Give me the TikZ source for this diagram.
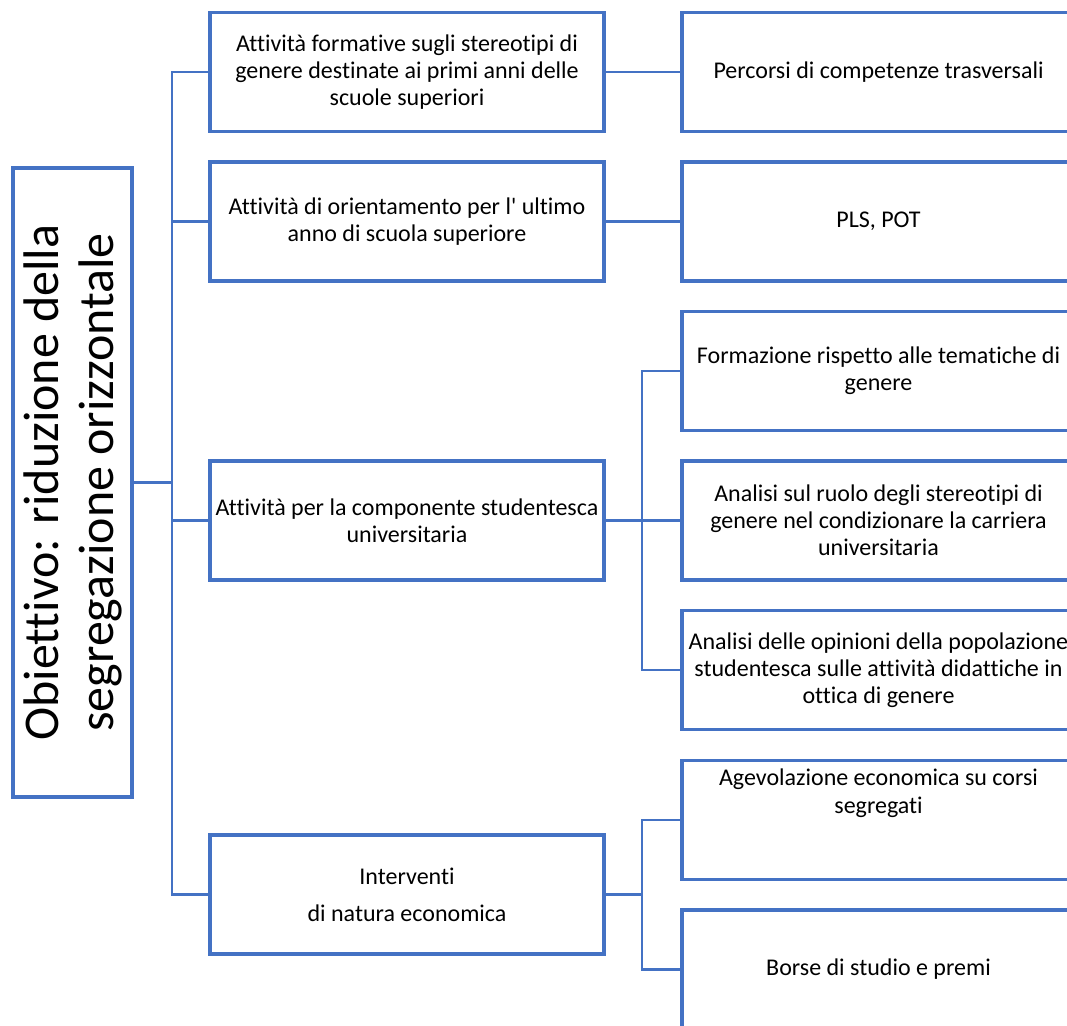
\documentclass[tikz,border=0pt]{standalone}
\usepackage{fontspec}
\setmainfont{Carlito}[Ligatures={NoCommon}]
\definecolor{lineblue}{HTML}{4472C4}
\tikzset{
  box/.style={draw=lineblue, line width=3.2pt, inner sep=0pt, align=center,
    minimum height=119pt, font=\fontsize{24}{27}\selectfont},
  leftbox/.style={box, minimum width=394pt},
  rightbox/.style={box, minimum width=393pt},
  conn/.style={draw=lineblue, line width=2.3pt},
  txt/.style={inner sep=0pt, align=center, font=\fontsize{24}{28}\selectfont}
}
\begin{document}
\begin{tikzpicture}[x=1pt,y=-1pt]
\useasboundingbox (0,0) rectangle (1067,1025);
\clip (0,0) rectangle (1067,1025);
% main box
\node[draw=lineblue, line width=3.2pt, minimum width=119pt, minimum height=629pt, inner sep=0pt] (main) at (72.5,482.5) {};
\node[rotate=90, inner sep=0pt, align=center, font=\fontsize{50}{55}\selectfont] (maintext) at (main.center) {Obiettivo: riduzione della\\segregazione orizzontale};
% level 1
\node[leftbox] (B1) at (407,72) {Attività formative sugli stereotipi di\\genere destinate ai primi anni delle\\scuole superiori};
\node[leftbox] (B2) at (407,221.5) {Attività di orientamento per l\textquotesingle{} ultimo\\anno di scuola superiore};
\node[leftbox] (B3) at (407,520.5) {Attività per la componente studentesca\\universitaria};
\node[leftbox] (B4) at (407,894.5) {Interventi\\[10pt]di natura economica};
% level 2
\node[rightbox] (R1) at (878.5,72) {Percorsi di competenze trasversali};
\node[rightbox] (R2) at (878.5,221.5) {PLS, POT};
\node[rightbox] (R3) at (878.5,371) {Formazione rispetto alle tematiche di\\genere};
\node[rightbox] (R4) at (878.5,520.5) {Analisi sul ruolo degli stereotipi di\\genere nel condizionare la carriera\\universitaria};
\node[rightbox] (R5) at (878.5,670) {Analisi delle opinioni della popolazione\\studentesca sulle attività didattiche in\\ottica di genere};
\node[rightbox] (R6) at (878.5,820) {};
\node[txt] (R6t) at (878.5,793.5) {Agevolazione economica su corsi\\segregati};
\node[rightbox] (R7) at (878.5,969.5) {Borse di studio e premi};
% junction columns
\coordinate (t) at (172,0);
\coordinate (u) at (642,0);
% connectors
\draw[conn] (main.east) -- (main.east -| t);
\draw[conn] (B1.west) -- (B1.west -| t) -- (B4.west -| t) -- (B4.west);
\draw[conn] (B2.west) -- (B2.west -| t);
\draw[conn] (B3.west) -- (B3.west -| t);
\draw[conn] (B1.east) -- (R1.west);
\draw[conn] (B2.east) -- (R2.west);
\draw[conn] (B3.east) -- (B3.east -| u);
\draw[conn] (R3.west) -- (R3.west -| u) -- (R5.west -| u) -- (R5.west);
\draw[conn] (R4.west) -- (R4.west -| u);
\draw[conn] (B4.east) -- (B4.east -| u);
\draw[conn] (R6.west) -- (R6.west -| u) -- (R7.west -| u) -- (R7.west);
\end{tikzpicture}
\end{document}
